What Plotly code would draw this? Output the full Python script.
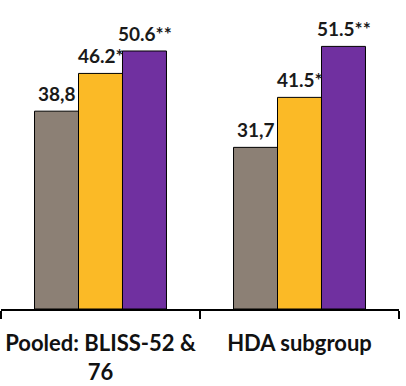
import plotly.graph_objects as go

categories = ["Pooled: BLISS-52 &<br>76", "HDA subgroup"]
series_names = ["Placebo", "Belimumab 1 mg/kg", "Belimumab 10 mg/kg"]
values_placebo = [38.8, 31.7]
values_1mg = [46.2, 41.5]
values_10mg = [50.6, 51.5]
labels_placebo = ["38,8", "31,7"]
labels_1mg = ["46.2*", "41.5*"]
labels_10mg = ["50.6**", "51.5**"]

colors = ["#8C8075", "#FBBA26", "#7030A0"]

fig = go.Figure()
all_vals = [values_placebo, values_1mg, values_10mg]
all_labels = [labels_placebo, labels_1mg, labels_10mg]
for name, vals, col in zip(series_names, all_vals, colors):
    fig.add_trace(go.Bar(
        x=categories, y=vals, name=name,
        marker=dict(color=col, line=dict(color="#000000", width=1)),
        hoverinfo="skip",
    ))

n = len(series_names)
for si, (vals, labs) in enumerate(zip(all_vals, all_labels)):
    for ci, (v, lab) in enumerate(zip(vals, labs)):
        fig.add_annotation(
            x=ci, y=v, xref="x", yref="y",
            text="<b>" + lab + "</b>",
            showarrow=False, yanchor="bottom", xanchor="center",
            xshift=(si - (n - 1) / 2) * 44,
            yshift=4,
            font=dict(family="Lato, Open Sans, sans-serif", size=19, color="#1a1a1a"),
        )

fig.update_layout(
    width=406, height=386,
    margin=dict(l=1, r=7, t=0, b=77, autoexpand=False),
    paper_bgcolor="white", plot_bgcolor="white",
    barmode="group", bargap=0.337, bargroupgap=0,
    showlegend=False,
    xaxis=dict(
        type="category", automargin=False, tickangle=0,
        showline=True, linecolor="#000000", linewidth=1.5,
        ticks="outside", tickson="boundaries", ticklen=8, tickcolor="#000000", tickwidth=1.5,
        ticklabelstandoff=14,
        tickfont=dict(family="Lato, Open Sans, sans-serif", size=22, color="#111111", weight="bold"),
        showgrid=False, zeroline=False,
    ),
    yaxis=dict(range=[0, 60.6], visible=False, showgrid=False, zeroline=False, automargin=False),
)

fig.write_html("out.html", config={"displayModeBar": False},
               post_script="document.body.style.margin='0';document.body.style.padding='0';")
